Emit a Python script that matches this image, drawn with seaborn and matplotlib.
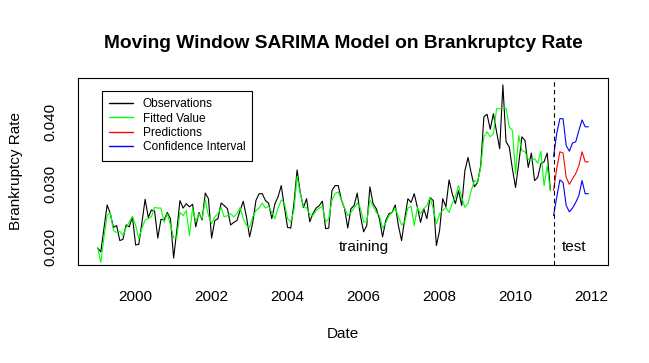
import numpy as np
import pandas as pd
import matplotlib
matplotlib.use("Agg")
import matplotlib.pyplot as plt
from matplotlib.lines import Line2D
import seaborn as sns

# ---------------- data ----------------
observations = [
    0.0198, 0.0192, 0.0230, 0.0267, 0.0253, 0.0231, 0.0234, 0.0210, 0.0212, 0.0235, 0.0232, 0.0248,
    0.0203, 0.0204, 0.0239, 0.0276, 0.0247, 0.0259, 0.0257, 0.0214, 0.0244, 0.0243, 0.0255, 0.0245,
    0.0182, 0.0226, 0.0274, 0.0262, 0.0269, 0.0264, 0.0268, 0.0232, 0.0255, 0.0243, 0.0286, 0.0277,
    0.0214, 0.0242, 0.0245, 0.0270, 0.0266, 0.0261, 0.0235, 0.0239, 0.0242, 0.0258, 0.0273, 0.0248,
    0.0216, 0.0239, 0.0274, 0.0285, 0.0285, 0.0274, 0.0270, 0.0245, 0.0269, 0.0280, 0.0298, 0.0263,
    0.0231, 0.0230, 0.0269, 0.0323, 0.0287, 0.0263, 0.0277, 0.0240, 0.0253, 0.0262, 0.0266, 0.0273,
    0.0229, 0.0230, 0.0290, 0.0298, 0.0298, 0.0275, 0.0261, 0.0230, 0.0261, 0.0266, 0.0286, 0.0250,
    0.0224, 0.0234, 0.0296, 0.0269, 0.0261, 0.0245, 0.0216, 0.0242, 0.0253, 0.0255, 0.0267, 0.0234,
    0.0210, 0.0245, 0.0277, 0.0271, 0.0285, 0.0263, 0.0239, 0.0261, 0.0245, 0.0279, 0.0274, 0.0202,
    0.0226, 0.0277, 0.0264, 0.0307, 0.0285, 0.0269, 0.0290, 0.0266, 0.0322, 0.0343, 0.0318, 0.0296,
    0.0303, 0.0330, 0.0408, 0.0412, 0.0388, 0.0413, 0.0384, 0.0357, 0.0459, 0.0368, 0.0360, 0.0325,
    0.0295, 0.0333, 0.0376, 0.0370, 0.0327, 0.0350, 0.0306, 0.0311, 0.0333, 0.0336, 0.0350, 0.0290,
]

fitted = [
    0.0199, 0.0175, 0.0215, 0.0250, 0.0255, 0.0226, 0.0223, 0.0225, 0.0218, 0.0231, 0.0240, 0.0248,
    0.0235, 0.0213, 0.0230, 0.0243, 0.0245, 0.0248, 0.0263, 0.0262, 0.0262, 0.0239, 0.0253, 0.0235,
    0.0215, 0.0215, 0.0255, 0.0250, 0.0258, 0.0218, 0.0262, 0.0240, 0.0253, 0.0245, 0.0275, 0.0250,
    0.0237, 0.0248, 0.0253, 0.0263, 0.0248, 0.0250, 0.0253, 0.0248, 0.0253, 0.0263, 0.0245, 0.0234,
    0.0231, 0.0248, 0.0258, 0.0262, 0.0270, 0.0262, 0.0265, 0.0255, 0.0245, 0.0262, 0.0275, 0.0270,
    0.0245, 0.0240, 0.0258, 0.0313, 0.0285, 0.0265, 0.0262, 0.0252, 0.0250, 0.0258, 0.0262, 0.0265,
    0.0240, 0.0245, 0.0275, 0.0285, 0.0288, 0.0275, 0.0262, 0.0250, 0.0255, 0.0262, 0.0270, 0.0262,
    0.0240, 0.0240, 0.0275, 0.0265, 0.0255, 0.0250, 0.0230, 0.0238, 0.0250, 0.0255, 0.0262, 0.0248,
    0.0235, 0.0240, 0.0262, 0.0265, 0.0234, 0.0263, 0.0253, 0.0261, 0.0266, 0.0279, 0.0261, 0.0237,
    0.0253, 0.0258, 0.0263, 0.0255, 0.0269, 0.0280, 0.0298, 0.0279, 0.0263, 0.0270, 0.0290, 0.0306,
    0.0303, 0.0327, 0.0376, 0.0384, 0.0376, 0.0381, 0.0421, 0.0421, 0.0422, 0.0422, 0.0392, 0.0386,
    0.0317, 0.0378, 0.0354, 0.0352, 0.0340, 0.0338, 0.0341, 0.0334, 0.0353, 0.0298, 0.0329, 0.0290,
]

predictions = [0.0290, 0.0325, 0.0352, 0.0350, 0.0311, 0.0300, 0.0309, 0.0317, 0.0330, 0.0352, 0.0336, 0.0336]
ci_upper = [0.0344, 0.0381, 0.0405, 0.0405, 0.0362, 0.0353, 0.0366, 0.0368, 0.0386, 0.0403, 0.0392, 0.0392]
ci_lower = [0.0250, 0.0279, 0.0307, 0.0303, 0.0266, 0.0256, 0.0262, 0.0271, 0.0282, 0.0306, 0.0285, 0.0285]

x_ticks = [2000, 2002, 2004, 2006, 2008, 2010, 2012]
y_ticks = [0.020, 0.025, 0.030, 0.035, 0.040, 0.045]
y_tick_labels = ["0.020", "", "0.030", "", "0.040", ""]
legend_labels = ["Observations", "Fitted Value", "Predictions", "Confidence Interval"]

# ---------------- frames ----------------
obs_dates = 1999 + np.arange(len(observations)) / 12
pred_dates = 2011 + np.arange(len(predictions)) / 12
train_df = pd.DataFrame({"date": obs_dates, "obs": observations, "fit": fitted})
test_df = pd.DataFrame({"date": pred_dates, "pred": predictions,
                        "upper": ci_upper, "lower": ci_lower})

# ---------------- style ----------------
sns.set_theme(style="white")
plt.rcParams["font.family"] = ["Liberation Sans", "DejaVu Sans"]
plt.rcParams["axes.linewidth"] = 0.8
plt.rcParams["text.color"] = "black"
plt.rcParams["axes.labelcolor"] = "black"
plt.rcParams["xtick.color"] = "black"
plt.rcParams["ytick.color"] = "black"

W, H = 649, 363
fig = plt.figure(figsize=(W / 100, H / 100), dpi=100)
L, R, T, B = 78, 608, 78, 265
ax = fig.add_axes([L / W, 1 - B / H, (R - L) / W, (B - T) / H])

lw = 0.8
sns.lineplot(data=train_df, x="date", y="obs", ax=ax, color="black", lw=lw,
             estimator=None, sort=False)
sns.lineplot(data=train_df, x="date", y="fit", ax=ax, color="#00ff00", lw=lw,
             estimator=None, sort=False)
sns.lineplot(data=test_df, x="date", y="pred", ax=ax, color="#ff0000", lw=lw,
             estimator=None, sort=False)
sns.lineplot(data=test_df, x="date", y="upper", ax=ax, color="#0000ff", lw=lw,
             estimator=None, sort=False)
sns.lineplot(data=test_df, x="date", y="lower", ax=ax, color="#0000ff", lw=lw,
             estimator=None, sort=False)

ax.axvline(2011, color="black", lw=0.8, ls=(0, (4, 3)))

# R-like 4% axis padding
xmin, xmax = obs_dates.min(), pred_dates.max()
ymin, ymax = min(observations), max(observations)
ax.set_xlim(xmin - 0.04 * (xmax - xmin), xmax + 0.04 * (xmax - xmin))
ax.set_ylim(ymin - 0.04 * (ymax - ymin), ymax + 0.04 * (ymax - ymin))

ax.set_xticks(x_ticks)
ax.set_xticklabels([str(v) for v in x_ticks])
ax.set_yticks(y_ticks)
ax.set_yticklabels(y_tick_labels)
ax.tick_params(axis="both", direction="out", length=7, width=0.8, color="black",
               labelsize=11, labelcolor="black")
ax.tick_params(axis="x", pad=11)
ax.tick_params(axis="y", pad=8)
for lbl in ax.get_yticklabels():
    lbl.set_rotation(90)
    lbl.set_va("center")
    lbl.set_ha("right")

for s in ax.spines.values():
    s.set_color("black")
    s.set_linewidth(0.8)

ax.set_xlabel("")
ax.set_ylabel("")
fig.text(343 / W, 1 - 334 / H, "Date", ha="center", va="center", fontsize=11)
fig.text(16 / W, 1 - 171.5 / H, "Brankruptcy Rate", ha="center", va="center",
         rotation=90, fontsize=11)
fig.text(343 / W, 1 - 43 / H, "Moving Window SARIMA Model on Brankruptcy Rate",
         ha="center", va="center", fontsize=13.8, fontweight="bold")

ax.text(2006, 0.020, "training", ha="center", va="center", fontsize=11)
ax.text(2011.55, 0.020, "test", ha="center", va="center", fontsize=11)

handles = [Line2D([], [], color=c, lw=1) for c in ["black", "#00ff00", "#ff0000", "#0000ff"]]
leg = ax.legend(handles, legend_labels, loc="upper left",
                bbox_to_anchor=(102 / W, 1 - 91 / H), bbox_transform=fig.transFigure,
                frameon=True, fancybox=False, edgecolor="black", framealpha=1,
                fontsize=8.6, handlelength=2.0, handletextpad=0.8, labelspacing=0.2,
                borderpad=0.6, borderaxespad=0)
leg.get_frame().set_linewidth(0.8)

fig.savefig("out.png", dpi=100, facecolor="white")
